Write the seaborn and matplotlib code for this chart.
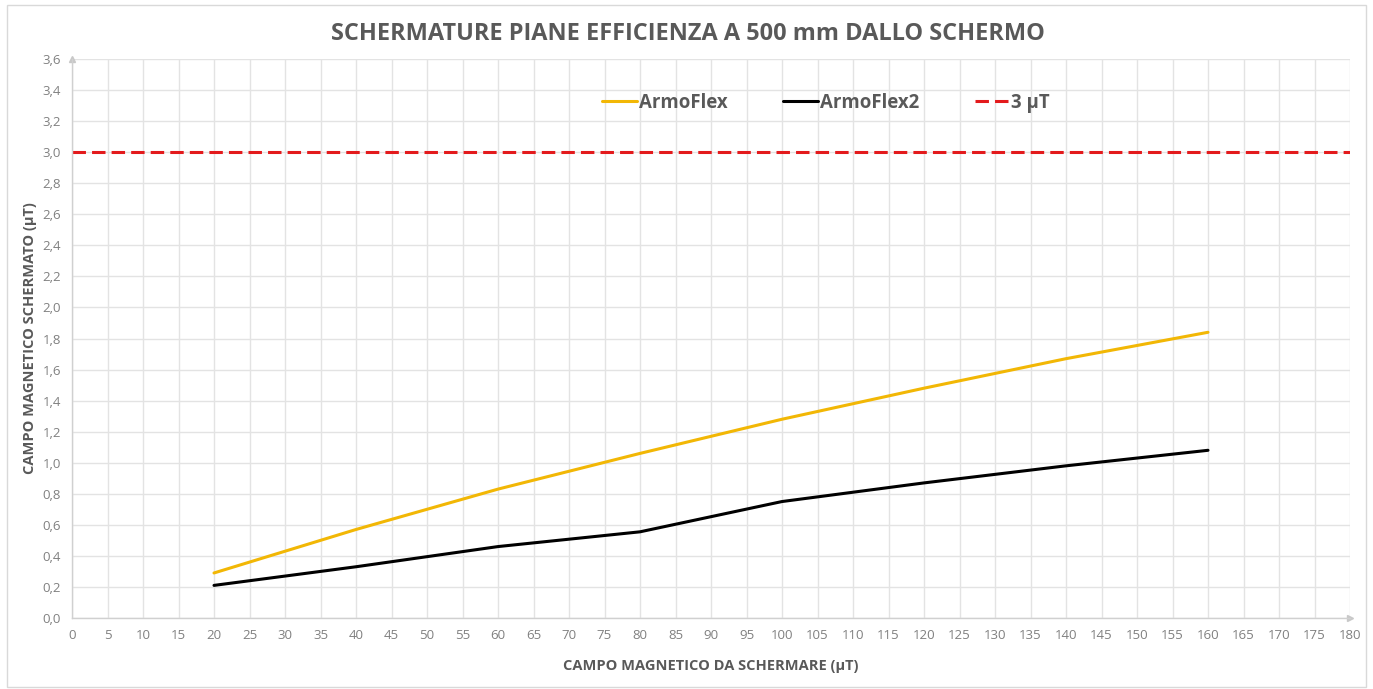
import seaborn as sns
import matplotlib.pyplot as plt
import matplotlib.ticker as mticker
import numpy as np
import pandas as pd

# values
campo = [20, 40, 60, 80, 100, 120, 140, 160]
armoflex = [0.29, 0.57, 0.83, 1.06, 1.28, 1.48, 1.67, 1.84]
armoflex2 = [0.21, 0.33, 0.46, 0.555, 0.75, 0.87, 0.98, 1.08]
limite = 3.0
series_names = ['ArmoFlex', 'ArmoFlex2']
series_colors = ['#f2b705', '#000000']

df = pd.DataFrame({
    'campo': campo * 2,
    'valore': armoflex + armoflex2,
    'serie': [series_names[0]] * len(campo) + [series_names[1]] * len(campo),
})

sns.set_style('white')
plt.rcParams['font.family'] = ['Open Sans', 'DejaVu Sans']
grey = '#595959'
tick_grey = '#808080'

fig = plt.figure(figsize=(13.73, 6.89), dpi=100)
ax = fig.add_axes([72 / 1373, 1 - 618 / 689, (1350 - 72) / 1373, (618 - 59) / 689])

sns.lineplot(data=df, x='campo', y='valore', hue='serie', palette=series_colors,
             linewidth=2.2, ax=ax)
ax.axhline(limite, color='#e31a1c', linestyle=(0, (4.4, 2.0)), linewidth=2.2,
           label='3 \u00b5T')

ax.set_xlim(0, 180)
ax.set_ylim(0, 3.6)
ax.xaxis.set_major_locator(mticker.MultipleLocator(5))
ax.yaxis.set_major_locator(mticker.MultipleLocator(0.2))
ax.yaxis.set_major_formatter(mticker.FuncFormatter(lambda v, p: f'{v:.1f}'.replace('.', ',')))
ax.grid(True, color='#e3e3e3', linewidth=1)
ax.set_axisbelow(True)
for s in ['top', 'right']:
    ax.spines[s].set_visible(False)
for s in ['left', 'bottom']:
    ax.spines[s].set_color('#d0d0d0')
    ax.spines[s].set_linewidth(1)
ax.tick_params(axis='both', length=0, labelsize=9.5, labelcolor=tick_grey, pad=8)
# small arrow heads at the axis ends
ax.plot(1, 0, '>', color='#c8c8c8', markersize=5, transform=ax.transAxes, clip_on=False)
ax.plot(0, 1, '^', color='#c8c8c8', markersize=5, transform=ax.transAxes, clip_on=False)

ax.set_xlabel('CAMPO MAGNETICO DA SCHERMARE (\u00b5T)', fontsize=10.5, fontweight='bold',
              color=grey, labelpad=12)
ax.set_ylabel('CAMPO MAGNETICO SCHERMATO (\u00b5T)', fontsize=10.5, fontweight='bold',
              color=grey, labelpad=4)
fig.text(0.5 * (333 + 1042) / 1373, 1 - 34 / 689, 'SCHERMATURE PIANE EFFICIENZA A 500 mm DALLO SCHERMO',
         ha='center', va='center', fontsize=16.9, fontweight='bold', color=grey)

leg = ax.legend(loc='upper center', bbox_to_anchor=(0.59, 0.97), ncol=3, frameon=False,
                handlelength=1.85, handletextpad=0.1, columnspacing=3.0,
                prop={'size': 13.4, 'weight': 'bold'})
for t in leg.get_texts():
    t.set_color(grey)

# outer chart frame
fig.patches.append(plt.Rectangle((7 / 1373, 2 / 689), 1359 / 1373, 682 / 689,
                                 transform=fig.transFigure, fill=False,
                                 edgecolor='#d9d9d9', linewidth=1))

fig.savefig('out.png', dpi=100)
